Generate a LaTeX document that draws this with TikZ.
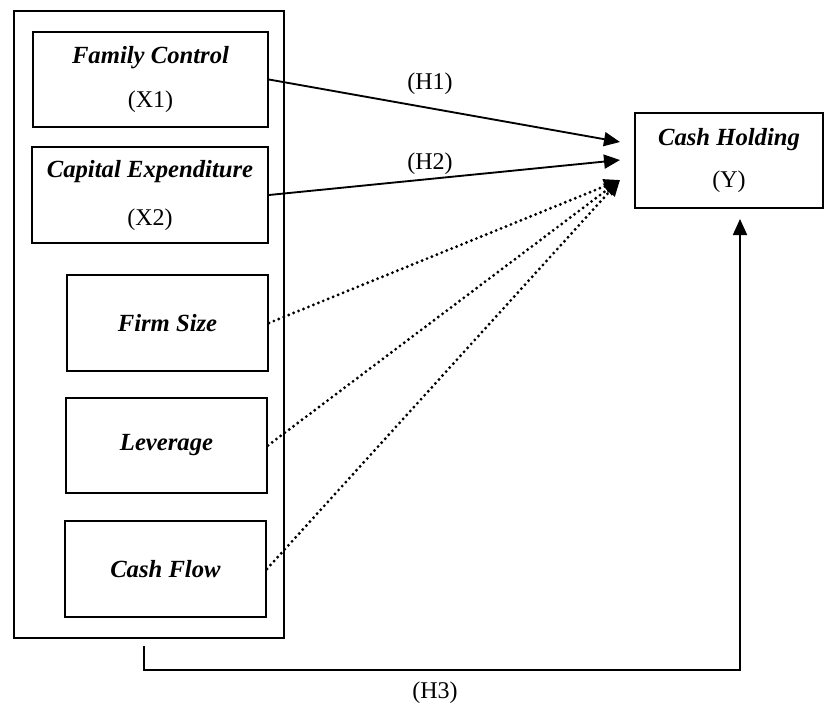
\documentclass[tikz,border=0pt]{standalone}
\usepackage{fontspec}
\setmainfont{Liberation Serif}
\usetikzlibrary{arrows.meta}
\tikzset{link/.style={-{Triangle[length=12pt,width=10.5pt]}, line width=1.4pt},
  ctrl/.style={link, line width=2.4pt, line cap=round, dash pattern=on 0pt off 4pt},
  var/.style={draw, line width=1.4pt, inner sep=0pt, align=center, font=\fontsize{18}{32}\selectfont},
  hyp/.style={font=\fontsize{18}{20}\selectfont}}
\newcommand{\vname}[1]{{\fontsize{18.5}{32}\selectfont\textbf{\textit{#1}}}}

\begin{document}
\begin{tikzpicture}[x=0.75pt, y=-0.75pt]
  \useasboundingbox (0,0) rectangle (825,707);
  % frame round the explanatory variables
  \node[draw, line width=1.4pt, minimum width=202.5pt, minimum height=470.25pt] (group) at (149,324.5) {};
  \node[var, minimum width=176.25pt, minimum height=71.25pt] (fam) at (150.5,79.5) {\vname{Family Control}\\[1pt](X1)};
  \node[var, minimum width=177pt, minimum height=72pt] (capex) at (150,195) {\vname{Capital Expenditure}\\[4pt](X2)};
  \node[var, minimum width=150.75pt, minimum height=72pt] (size) at (167.5,323) {\vname{Firm Size}};
  \node[var, minimum width=150.75pt, minimum height=71.25pt] (lev) at (166.5,445.5) {\vname{Leverage}};
  \node[var, minimum width=150.75pt, minimum height=72pt] (flow) at (165.5,569) {\vname{Cash Flow}};
  % dependent variable
  \node[var, minimum width=141pt, minimum height=71.25pt] (hold) at (729,160.5) {\vname{Cash Holding}\\(Y)};
  % arrow tips in front of the dependent variable
  \coordinate (tipA) at (620,142);
  \coordinate (tipB) at (620,160);
  \coordinate (tipC) at (620,180);
  \draw[link] (fam.east) -- (tipA);
  \draw[link] (capex.east) -- (tipB);
  \foreach \n in {size,lev,flow}
    \draw[ctrl] (\n.east) -- (tipC);
  \node[hyp] (h1) at (430,84) {(H1)};
  \node[hyp] (h2) at (430,164) {(H2)};
  % joint effect, routed underneath
  \coordinate (jointA) at (144,646);
  \coordinate (jointB) at (144,670);
  \coordinate (jointC) at (740,219);
  \draw[link] (jointA) -- (jointB) -| (jointC);
  \node[hyp] (h3) at (435,693) {(H3)};
\end{tikzpicture}
\end{document}
